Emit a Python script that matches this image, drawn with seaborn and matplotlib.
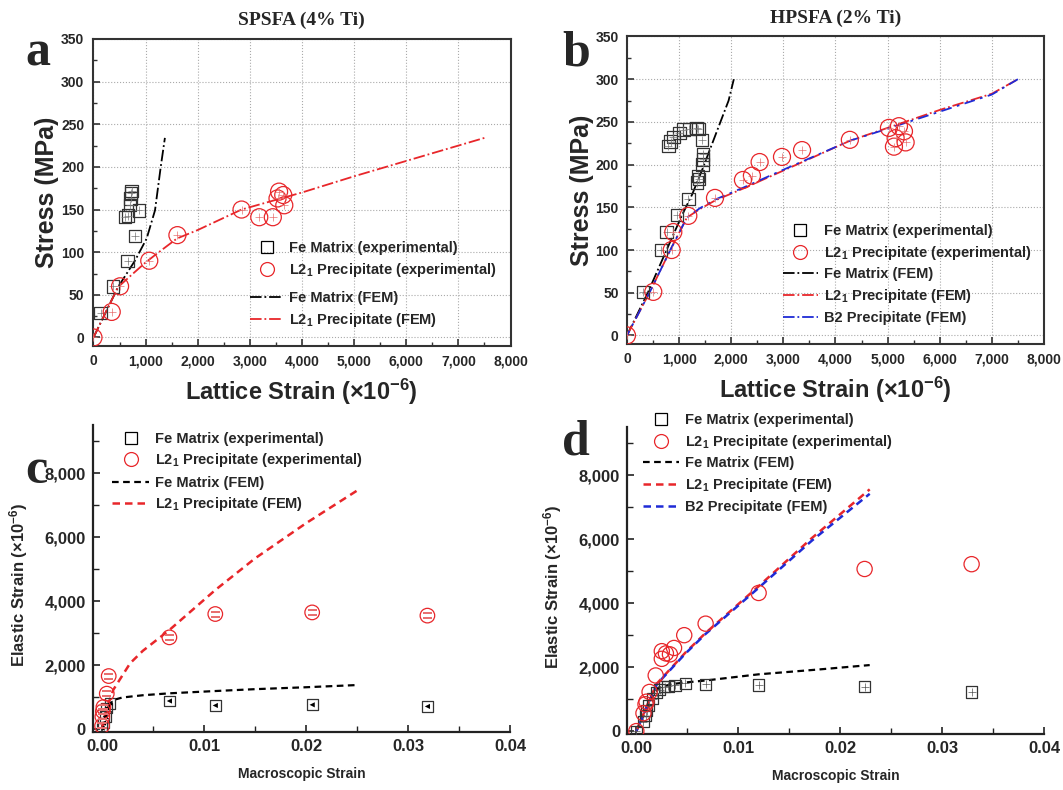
import numpy as np
import pandas as pd
import matplotlib
matplotlib.use('Agg')
import matplotlib.pyplot as plt
from matplotlib.lines import Line2D
from matplotlib.ticker import MultipleLocator, FuncFormatter
import seaborn as sns

# ---------------- panel a : SPSFA (4% Ti), stress vs lattice strain
a_fe_x = [136, 378, 655, 795, 603, 666, 877, 699, 712, 718, 731]
a_fe_y = [29, 60, 90, 119, 141, 143, 149, 155, 163, 169, 172]
a_l2_x = [0, 350, 510, 1070, 1610, 2840, 3180, 3440, 3560, 3640, 3530, 3660]
a_l2_y = [0, 30, 60, 90, 120, 150, 141, 141, 171, 167, 163, 155]
a_fe_fem_x = [0, 470, 795, 1020, 1180, 1290, 1370]
a_fe_fem_y = [0, 59, 90, 116, 149, 200, 234]
a_l2_fem_x = [0, 470, 760, 1000, 1210, 1600, 2000, 2840, 4000, 5000, 6000, 7000, 7500]
a_l2_fem_y = [0, 59, 75, 88, 98, 116, 126, 150, 170, 189, 207, 225, 234]

# ---------------- panel b : HPSFA (2% Ti)
b_fe_x = [313, 653, 762, 965, 1177, 1363, 1382, 1344, 1453, 1464, 1459, 1440,
          1338, 1369, 1196, 1081, 1004, 889, 839, 793]
b_fe_y = [51, 100, 121, 141, 160, 187, 183, 179, 200, 206, 212, 229,
          243, 242, 242, 241, 237, 232, 227, 222]
b_l2_x = [0, 505, 858, 889, 1177, 1689, 2225, 2397, 2545, 2974, 3359, 4276,
          5026, 5218, 5314, 5154, 5346, 5122]
b_l2_y = [0, 51, 100, 121, 140, 161, 182, 187, 203, 209, 217, 229,
          243, 245, 239, 231, 226, 221]
b_fe_fem_x = [0, 400, 760, 1050, 1250, 1450, 1700, 1950, 2050]
b_fe_fem_y = [0, 50, 100, 140, 165, 195, 235, 275, 300]
b_l2_fem_x = [0, 440, 840, 1150, 1400, 1690, 2230, 3000, 4280, 5000, 6000, 7000, 7500]
b_l2_fem_y = [0, 51, 101, 138, 148, 158, 172, 193, 228, 243, 264, 283, 300]
b_b2_fem_y = [0, 51, 101, 138, 149, 159, 173, 194, 228, 242, 262, 282, 300]

# ---------------- panel c : elastic strain vs macroscopic strain (SPSFA)
c_fe_x = [0, 0.00013, 0.0003, 0.00046, 0.00078, 0.0066, 0.0111, 0.0206, 0.0319]
c_fe_y = [30, 190, 390, 660, 810, 880, 740, 760, 710]
c_l2_x = [0, 0.00003, 0.00008, 0.00013, 0.00046, 0.00065, 0.0066, 0.0111, 0.0206, 0.0319]
c_l2_y = [100, 390, 560, 690, 1110, 1660, 2870, 3600, 3650, 3550]
c_fe_fem_x = [0, 0.0004, 0.0008, 0.0012, 0.002, 0.004, 0.0066, 0.011, 0.015, 0.02, 0.0251]
c_fe_fem_y = [0, 500, 790, 920, 990, 1060, 1120, 1190, 1250, 1310, 1380]
c_l2_fem_x = [0, 0.0002, 0.0005, 0.0011, 0.00275, 0.004, 0.0066, 0.0111, 0.015, 0.02, 0.0251]
c_l2_fem_y = [0, 350, 700, 1230, 2060, 2450, 3100, 4350, 5340, 6440, 7480]

# ---------------- panel d : elastic strain vs macroscopic strain (HPSFA)
d_fe_x = [0, 0.0007, 0.0009, 0.001, 0.0012, 0.0016, 0.002, 0.0023, 0.0028, 0.0031,
          0.0038, 0.0048, 0.0068, 0.012, 0.0224, 0.0329]
d_fe_y = [0, 300, 480, 640, 800, 1010, 1200, 1290, 1390, 1400,
          1430, 1500, 1460, 1440, 1390, 1225]
d_l2_x = [0, 0.0007, 0.0009, 0.001, 0.0013, 0.0019, 0.0025, 0.0025, 0.0029, 0.0033,
          0.0037, 0.0047, 0.0068, 0.012, 0.0224, 0.0329]
d_l2_y = [0, 560, 840, 920, 1225, 1740, 2260, 2500, 2430, 2400,
          2600, 3000, 3360, 4320, 5070, 5220]
d_fe_fem_x = [0, 0.001, 0.0015, 0.0022, 0.0035, 0.0048, 0.007, 0.012, 0.018, 0.0229]
d_fe_fem_y = [0, 700, 1050, 1360, 1470, 1520, 1590, 1776, 1930, 2065]
d_l2_fem_x = [0, 0.001, 0.002, 0.0048, 0.0068, 0.012, 0.0172, 0.0229]
d_l2_fem_y = [0, 760, 1480, 2450, 3070, 4530, 6030, 7560]
d_b2_fem_y = [0, 740, 1460, 2420, 3040, 4480, 5950, 7420]

lab_fe_exp = 'Fe Matrix (experimental)'
lab_l2_exp = r'L2$_{1}$ Precipitate (experimental)'
lab_fe_fem = 'Fe Matrix (FEM)'
lab_l2_fem = r'L2$_{1}$ Precipitate (FEM)'
lab_b2_fem = 'B2 Precipitate (FEM)'
strain_label = r'Lattice Strain ($\times$10$^{-6}$)'
elastic_label = r'Elastic Strain ($\times$10$^{-6}$)'

sns.set_style('ticks')
plt.rcParams['font.family'] = ['Liberation Sans', 'DejaVu Sans']
plt.rcParams['font.weight'] = 'bold'
plt.rcParams['mathtext.fontset'] = 'custom'
plt.rcParams['mathtext.rm'] = 'Liberation Sans:bold'
plt.rcParams['mathtext.bf'] = 'Liberation Sans:bold'
plt.rcParams['mathtext.it'] = 'Liberation Sans:bold'
plt.rcParams['mathtext.sf'] = 'Liberation Sans:bold'
plt.rcParams['mathtext.default'] = 'rm'

RED = '#e8262a'
BLUE = '#1f2bd6'
GREY = '#333333'

fig = plt.figure(figsize=(10.63, 7.90), dpi=100)
ax_a = fig.add_axes([0.0872, 0.562, 0.3931, 0.3887])
ax_b = fig.add_axes([0.5898, 0.5646, 0.3923, 0.3892])
ax_c = fig.add_axes([0.0872, 0.0734, 0.3926, 0.3886])
ax_d = fig.add_axes([0.5898, 0.0709, 0.3923, 0.3886])


def points(ax, x, y, marker, s, color, inner='+', inner_s=30, inner_c=None):
    df = pd.DataFrame({'x': x, 'y': y})
    sns.scatterplot(data=df, x='x', y='y', marker=marker, s=s, facecolors='none',
                    edgecolor=color, linewidth=0.9, ax=ax, legend=False, zorder=4)
    ic = inner_c if inner_c else color
    if inner in ('+',):
        sns.scatterplot(data=df, x='x', y='y', marker='+', s=inner_s, color=ic,
                        linewidth=0.5, ax=ax, legend=False, zorder=4)
    elif inner is not None:
        sns.scatterplot(data=df, x='x', y='y', marker=inner, s=inner_s, color=ic,
                        edgecolor='none', ax=ax, legend=False, zorder=4)


def curve(ax, x, y, color, ls, lw=1.3):
    df = pd.DataFrame({'x': x, 'y': y})
    sns.lineplot(data=df, x='x', y='y', color=color, linestyle=ls, lw=lw,
                 sort=False, estimator=None, ax=ax, legend=False, zorder=3)


def style_top(ax, title, letter_xy, letter):
    ax.set_xlim(-15, 8000)
    ax.set_ylim(-10, 350)
    ax.xaxis.set_major_locator(MultipleLocator(1000))
    ax.xaxis.set_minor_locator(MultipleLocator(500))
    ax.yaxis.set_major_locator(MultipleLocator(50))
    ax.yaxis.set_minor_locator(MultipleLocator(25))
    ax.xaxis.set_major_formatter(FuncFormatter(lambda v, p: f'{v:,.0f}'))
    ax.grid(True, which='major', ls=':', color='#aaaaaa', lw=0.8)
    for sp in ax.spines.values():
        sp.set_color(GREY)
        sp.set_linewidth(1.5)
    ax.tick_params(which='both', direction='in', top=False, right=False,
                   labelsize=10, color=GREY, pad=6)
    ax.tick_params(which='major', length=5, width=1.2)
    ax.tick_params(which='minor', length=3, width=1.0)
    ax.set_xlabel(strain_label, fontsize=17, fontweight='bold')
    ax.set_ylabel('Stress (MPa)', fontsize=18, fontweight='bold')
    ax.xaxis.set_label_coords(0.5, -0.10)
    ax.yaxis.set_label_coords(-0.08, 0.5)
    ax.set_title(title, fontsize=14, fontweight='bold',
                 family=['Liberation Serif'], pad=10)
    fig.text(letter_xy[0] / 1063, 1 - letter_xy[1] / 790, letter, fontsize=36,
             fontweight='bold', family=['Liberation Serif'], ha='left', va='baseline')


def style_bottom(ax, letter_xy, letter):
    ax.set_xlim(-0.00092, 0.04)
    ax.set_ylim(-90, 9510)
    ax.xaxis.set_major_locator(MultipleLocator(0.01))
    ax.xaxis.set_minor_locator(MultipleLocator(0.005))
    ax.yaxis.set_major_locator(MultipleLocator(2000))
    ax.yaxis.set_minor_locator(MultipleLocator(1000))
    ax.xaxis.set_major_formatter(FuncFormatter(lambda v, p: f'{v:.2f}'))
    ax.yaxis.set_major_formatter(FuncFormatter(lambda v, p: f'{v:,.0f}'))
    sns.despine(ax=ax)
    for sp in ('left', 'bottom'):
        ax.spines[sp].set_color('#222222')
        ax.spines[sp].set_linewidth(1.6)
    ax.tick_params(which='both', direction='in', labelsize=12, color='#222222', pad=5)
    ax.tick_params(which='major', length=5, width=1.2)
    ax.tick_params(which='minor', length=4, width=1.0)
    ax.set_xlabel('Macroscopic Strain', fontsize=10, fontweight='bold')
    ax.set_ylabel(elastic_label, fontsize=12, fontweight='bold')
    ax.xaxis.set_label_coords(0.5, -0.115)
    ax.yaxis.set_label_coords(-0.15, 0.48)
    fig.text(letter_xy[0] / 1063, 1 - letter_xy[1] / 790, letter, fontsize=36,
             fontweight='bold', family=['Liberation Serif'], ha='left', va='baseline')


def legends(ax, mk_handles, mk_labels, ln_handles, ln_labels, x0, y1, y2, hl, sp=0.35):
    kw = dict(loc='upper left', frameon=False, borderpad=0, borderaxespad=0,
              handlelength=hl, handletextpad=0.4, labelspacing=sp,
              prop={'weight': 'bold', 'size': 10.5})
    leg1 = ax.legend(mk_handles, mk_labels, bbox_to_anchor=(x0, y1), **kw)
    ax.add_artist(leg1)
    ax.legend(ln_handles, ln_labels, bbox_to_anchor=(x0, y2), **kw)


sq_h = Line2D([], [], ls='none', marker='s', ms=8, mfc='none', mec='k', mew=0.9)
ci_h = Line2D([], [], ls='none', marker='o', ms=10, mfc='none', mec=RED, mew=0.9)

# ---- panel a
curve(ax_a, a_fe_fem_x, a_fe_fem_y, 'k', '-.')
curve(ax_a, a_l2_fem_x, a_l2_fem_y, RED, '-.')
points(ax_a, a_fe_x, a_fe_y, 's', 80, GREY, inner_c='#777777')
points(ax_a, a_l2_x, a_l2_y, 'o', 150, RED, inner_c='#e87070')
style_top(ax_a, 'SPSFA (4% Ti)', (25, 66), 'a')
legends(ax_a, [sq_h, ci_h], [lab_fe_exp, lab_l2_exp],
        [Line2D([], [], color='k', ls='-.', lw=1.3),
         Line2D([], [], color=RED, ls='-.', lw=1.3)],
        [lab_fe_fem, lab_l2_fem], 0.376, 0.343, 0.180, 2.3, sp=0.45)

# ---- panel b
curve(ax_b, b_fe_fem_x, b_fe_fem_y, 'k', '-.')
curve(ax_b, b_l2_fem_x, b_l2_fem_y, RED, '-.')
curve(ax_b, b_l2_fem_x, b_b2_fem_y, BLUE, (3, (6, 3, 1.5, 3)))
points(ax_b, b_fe_x, b_fe_y, 's', 80, GREY, inner_c='#777777')
points(ax_b, b_l2_x, b_l2_y, 'o', 150, RED, inner_c='#e87070')
style_top(ax_b, 'HPSFA (2% Ti)', (562, 66), 'b')
ax_b.set_xlim(0, 8000)
legends(ax_b, [sq_h, ci_h], [lab_fe_exp, lab_l2_exp],
        [Line2D([], [], color='k', ls='-.', lw=1.3),
         Line2D([], [], color=RED, ls='-.', lw=1.3),
         Line2D([], [], color=BLUE, ls='-.', lw=1.3)],
        [lab_fe_fem, lab_l2_fem, lab_b2_fem], 0.374, 0.39, 0.25, 2.4, sp=0.42)

# ---- panel c
dash = (0, (3, 2))
curve(ax_c, c_fe_fem_x, c_fe_fem_y, 'k', dash, lw=1.6)
curve(ax_c, c_l2_fem_x, c_l2_fem_y, RED, dash, lw=1.8)
points(ax_c, c_fe_x, c_fe_y, 's', 60, GREY, inner='<', inner_s=14, inner_c='k')
points(ax_c, c_l2_x, c_l2_y, 'o', 110, RED, inner='$=$', inner_s=45, inner_c='#e87070')
style_bottom(ax_c, (25, 483), 'c')
legends(ax_c, [sq_h, ci_h], [lab_fe_exp, lab_l2_exp],
        [Line2D([], [], color='k', ls=dash, lw=1.6),
         Line2D([], [], color=RED, ls=dash, lw=1.8)],
        [lab_fe_fem, lab_l2_fem], 0.047, 0.978, 0.835, 2.5)

# ---- panel d
curve(ax_d, d_fe_fem_x, d_fe_fem_y, 'k', dash, lw=1.6)
curve(ax_d, d_l2_fem_x, d_l2_fem_y, RED, dash, lw=1.8)
curve(ax_d, d_l2_fem_x, d_b2_fem_y, BLUE, (2, (3, 2)), lw=1.8)
points(ax_d, d_fe_x, d_fe_y, 's', 65, GREY, inner_c='#555555')
points(ax_d, d_l2_x, d_l2_y, 'o', 120, RED, inner=None)
style_bottom(ax_d, (562, 455), 'd')
legends(ax_d, [sq_h, ci_h], [lab_fe_exp, lab_l2_exp],
        [Line2D([], [], color='k', ls=dash, lw=1.6),
         Line2D([], [], color=RED, ls=dash, lw=1.8),
         Line2D([], [], color=BLUE, ls=dash, lw=1.8)],
        [lab_fe_fem, lab_l2_fem, lab_b2_fem], 0.038, 1.046, 0.905, 2.5, sp=0.42)

fig.savefig('out.png', dpi=100, facecolor='white')
